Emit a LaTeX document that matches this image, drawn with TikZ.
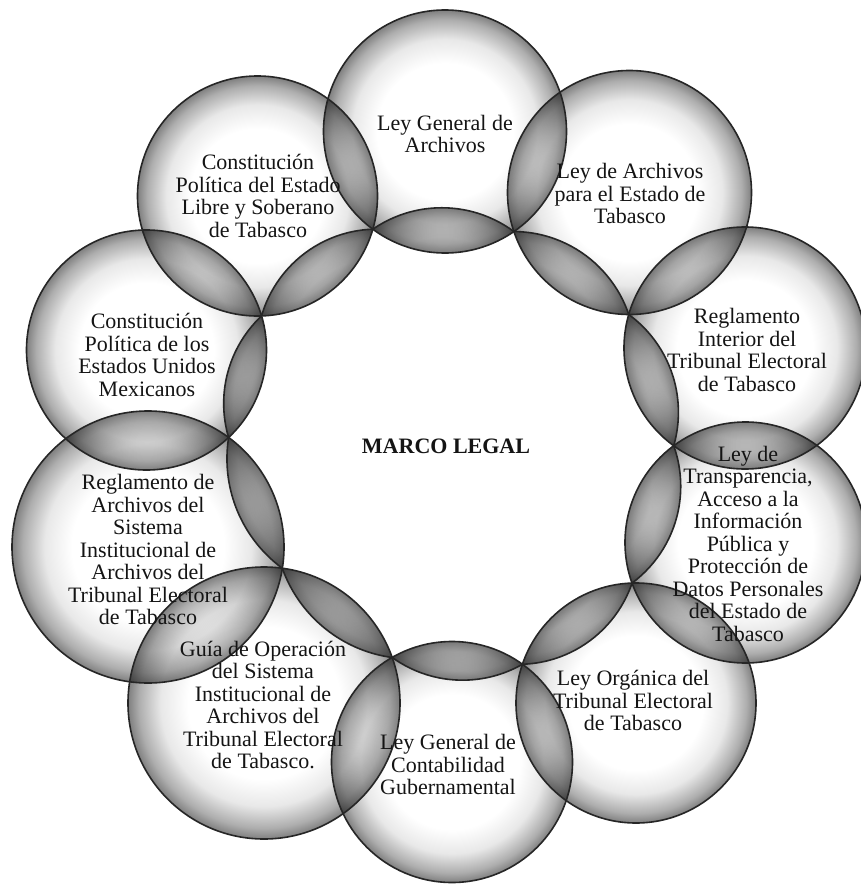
\documentclass[tikz,border=0pt]{standalone}
\usepackage{fontspec}
\setmainfont{Liberation Serif}
\usetikzlibrary{calc}
\pgfdeclareradialshading{glassball}{\pgfpointorigin}{color(0bp)=(white); color(14bp)=(white); color(19bp)=(black!9); color(23bp)=(black!32); color(25bp)=(black!50); color(50bp)=(black!50)}
\newcommand\defcirc[4]{%
  \expandafter\xdef\csname cx@#1\endcsname{#2}%
  \expandafter\xdef\csname cy@#1\endcsname{#3}%
  \expandafter\xdef\csname cr@#1\endcsname{#4}%
  \coordinate (#1) at (#2,#3);}
\newcommand\rad[1]{\csname cr@#1\endcsname}
\newcommand\innerpt[3]{%
  \edef\qxa{\csname cx@#1\endcsname}\edef\qya{\csname cy@#1\endcsname}\edef\qra{\csname cr@#1\endcsname}%
  \edef\qxb{\csname cx@#2\endcsname}\edef\qyb{\csname cy@#2\endcsname}\edef\qrb{\csname cr@#2\endcsname}%
  \pgfmathsetmacro\qdx{\qxb-\qxa}%
  \pgfmathsetmacro\qdy{\qyb-\qya}%
  \pgfmathsetmacro\qd{sqrt(\qdx*\qdx+\qdy*\qdy)}%
  \pgfmathsetmacro\qa{(\qd*\qd+\qra*\qra-\qrb*\qrb)/(2*\qd)}%
  \pgfmathsetmacro\qh{sqrt(\qra*\qra-\qa*\qa)}%
  \pgfmathsetmacro\qpx{\qxa+(\qa*\qdx-\qh*\qdy)/\qd}%
  \pgfmathsetmacro\qpy{\qya+(\qa*\qdy+\qh*\qdx)/\qd}%
  \coordinate (#3) at (\qpx,\qpy);}
\newcommand\mirror[3]{% circle, end point 1, end point 2
  \coordinate (f#1) at ($(#2)!(#1)!(#3)$);
  \coordinate (m#1) at ($(#1)!2!(f#1)$);}
\tikzset{
  rim/.style={draw=black!85, line width=1.6pt},
  lbl/.style={align=center, inner sep=0pt, text=black!92,
    font=\fontsize{22}{22.5}\selectfont},
  title/.style={inner sep=0pt, text=black!92,
    font=\fontsize{22}{22.5}\selectfont\bfseries}
}
\begin{document}
\begin{tikzpicture}[x=10pt,y=-10pt]
\useasboundingbox (0,0) rectangle (86.1,88.6);
\fill[white] (0,0) rectangle (86.1,88.6);
% circles: name, x, y, r (units of 10px)
\defcirc{LG}{44.5}{13.15}{12.15}
\defcirc{LA}{62.95}{19.25}{12.2}
\defcirc{RI}{74.5}{34.8}{12.1}
\defcirc{TR}{74.55}{54.25}{12.05}
\defcirc{LO}{63.6}{70.3}{12.0}
\defcirc{CO}{45.2}{76.2}{12.05}
\defcirc{GU}{26.4}{70.3}{13.6}
\defcirc{RA}{14.8}{54.7}{13.6}
\defcirc{CE}{14.65}{35.0}{12.0}
\defcirc{CS}{25.75}{19.6}{12.0}
% inner intersection points of neighbouring circles
\innerpt{LG}{LA}{p01}
\innerpt{LA}{RI}{p12}
\innerpt{RI}{TR}{p23}
\innerpt{TR}{LO}{p34}
\innerpt{LO}{CO}{p45}
\innerpt{CO}{GU}{p56}
\innerpt{GU}{RA}{p67}
\innerpt{RA}{CE}{p78}
\innerpt{CE}{CS}{p89}
\innerpt{CS}{LG}{p90}
% mirrored circles forming the inner lenses
\mirror{LG}{p90}{p01}
\mirror{LA}{p01}{p12}
\mirror{RI}{p12}{p23}
\mirror{TR}{p23}{p34}
\mirror{LO}{p34}{p45}
\mirror{CO}{p45}{p56}
\mirror{GU}{p56}{p67}
\mirror{RA}{p67}{p78}
\mirror{CE}{p78}{p89}
\mirror{CS}{p89}{p90}
% shaded bodies
\begin{scope}[blend mode=multiply]
  \foreach \n in {LG,LA,RI,TR,LO,CO,GU,RA,CE,CS}{
    \shade[shading=glassball] (\n) circle (\rad{\n});
    \begin{scope}
      \clip (\n) circle (\rad{\n});
      \shade[shading=glassball] (m\n) circle (\rad{\n});
    \end{scope}
  }
\end{scope}
% outlines
\foreach \n in {LG,LA,RI,TR,LO,CO,GU,RA,CE,CS}{
  \draw[rim] (\n) circle (\rad{\n});
  \begin{scope}
    \clip (\n) circle (\rad{\n});
    \draw[rim] (m\n) circle (\rad{\n});
  \end{scope}
}
% labels
\node[lbl] (tLG) at (44.5,13.4) {Ley General de\\Archivos};
\node[lbl] (tLA) at (63.0,19.35) {Ley de Archivos\\para el Estado de\\Tabasco};
\node[lbl] (tRI) at (74.7,35.0) {Reglamento\\Interior del\\Tribunal Electoral\\de Tabasco};
\node[lbl] (tTR) at (74.8,54.35) {Ley de\\Transparencia,\\Acceso a la\\Información\\Pública y\\Protección de\\Datos Personales\\del Estado de\\Tabasco};
\node[lbl] (tLO) at (63.3,70.05) {Ley Orgánica del\\Tribunal Electoral\\de Tabasco};
\node[lbl] (tCO) at (44.8,76.45) {Ley General de\\Contabilidad\\Gubernamental};
\node[lbl] (tGU) at (26.3,70.5) {Guía de Operación\\del Sistema\\Institucional de\\Archivos del\\Tribunal Electoral\\de Tabasco.};
\node[lbl] (tRA) at (14.8,54.95) {Reglamento de\\Archivos del\\Sistema\\Institucional de\\Archivos del\\Tribunal Electoral\\de Tabasco};
\node[lbl] (tCE) at (14.7,35.5) {Constitución\\Política de los\\Estados Unidos\\Mexicanos};
\node[lbl] (tCS) at (25.8,19.6) {Constitución\\Política del Estado\\Libre y Soberano\\de Tabasco};
\node[title, anchor=base] (tML) at (44.6,45.3) {MARCO LEGAL};
\end{tikzpicture}
\end{document}
